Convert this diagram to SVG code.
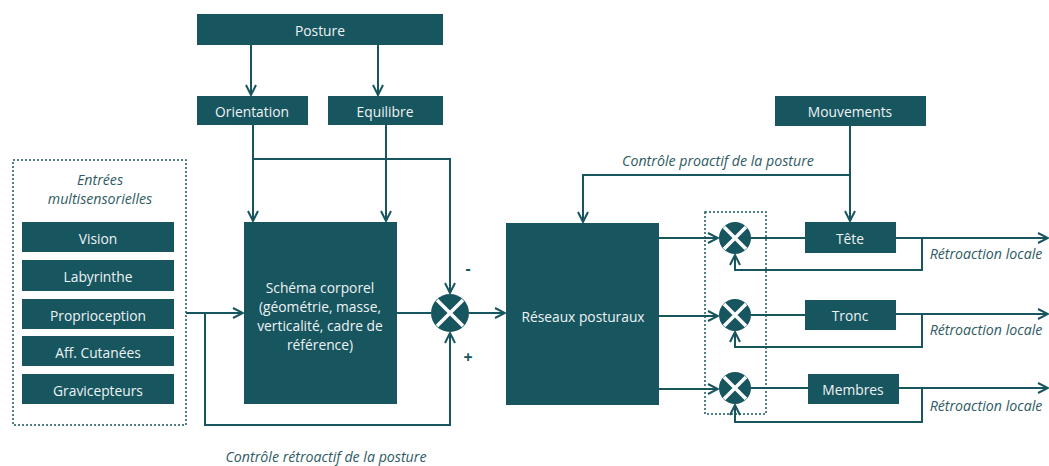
<svg xmlns="http://www.w3.org/2000/svg" width="1049" height="466" viewBox="0 0 1049 466">
<style>
.box{fill:#17555f}
.t{fill:#eef3f4;font-family:"Open Sans","Noto Sans",sans-serif;font-size:13.8px;text-anchor:middle;dominant-baseline:central}
.it{fill:#2e5b63;font-family:"Open Sans","Noto Sans",sans-serif;font-size:14.2px;font-style:italic;text-anchor:middle;dominant-baseline:central}
.sg{fill:#17555f;font-family:"Open Sans","Noto Sans",sans-serif;font-size:16px;font-weight:bold;text-anchor:middle;dominant-baseline:central}
.ln{fill:none;stroke:#17555f;stroke-width:2}
.dot{fill:none;stroke:#17555f;stroke-width:1.5;stroke-dasharray:2 2}
.x{stroke:#ffffff;stroke-width:3.5}
</style>
<defs>
<marker id="arr" markerUnits="userSpaceOnUse" viewBox="0 0 12 12" refX="11" refY="6" markerWidth="12" markerHeight="12" orient="auto">
<path d="M1,1 L11,6 L1,11" fill="none" stroke="#17555f" stroke-width="2"/>
</marker>
</defs>
<rect width="1049" height="466" fill="#ffffff"/>

<g id="connectors">
<path class="ln" d="M251,45 V95" marker-end="url(#arr)"/>
<path class="ln" d="M378,45 V95" marker-end="url(#arr)"/>
<path class="ln" d="M253,125 V221" marker-end="url(#arr)"/>
<path class="ln" d="M386,125 V221" marker-end="url(#arr)"/>
<path class="ln" d="M253,159 H450 V293" marker-end="url(#arr)"/>
<path class="ln" d="M186,313 H243" marker-end="url(#arr)"/>
<path class="ln" d="M205,313 V425 H450 V333" marker-end="url(#arr)"/>
<path class="ln" d="M397,313 H431"/>
<path class="ln" d="M469,313 H505" marker-end="url(#arr)"/>
<path class="ln" d="M850,126 V221" marker-end="url(#arr)"/>
<path class="ln" d="M850,175 H583 V222" marker-end="url(#arr)"/>
<path class="ln" d="M659,238 H718" marker-end="url(#arr)"/>
<path class="ln" d="M659,316 H718" marker-end="url(#arr)"/>
<path class="ln" d="M659,389 H718" marker-end="url(#arr)"/>
<path class="ln" d="M751,238 H805"/>
<path class="ln" d="M751,315 H805"/>
<path class="ln" d="M751,388 H808"/>
<path class="ln" d="M896,238 H1048" marker-end="url(#arr)"/>
<path class="ln" d="M896,314 H1048" marker-end="url(#arr)"/>
<path class="ln" d="M899,388 H1048" marker-end="url(#arr)"/>
<path class="ln" d="M922,238 V270 H735 V255" marker-end="url(#arr)"/>
<path class="ln" d="M922,314 V347 H735 V332" marker-end="url(#arr)"/>
<path class="ln" d="M922,388 V422 H735 V405" marker-end="url(#arr)"/>
</g>

<g id="posture"><rect class="box" x="197" y="14" width="246" height="31"/><text class="t" x="320" y="30">Posture</text></g>
<g id="orientation"><rect class="box" x="197" y="96" width="111" height="29"/><text class="t" x="252" y="111">Orientation</text></g>
<g id="equilibre"><rect class="box" x="328" y="96" width="115" height="29"/><text class="t" x="385" y="111">Equilibre</text></g>

<g id="entrees">
<rect class="dot" x="13" y="160" width="173" height="265"/>
<text class="it" x="100" y="179">Entrées</text>
<text class="it" x="100" y="198">multisensorielles</text>
</g>
<g id="vision"><rect class="box" x="22" y="222" width="152" height="30"/><text class="t" x="98" y="238">Vision</text></g>
<g id="labyrinthe"><rect class="box" x="22" y="260" width="152" height="31"/><text class="t" x="98" y="276">Labyrinthe</text></g>
<g id="proprioception"><rect class="box" x="22" y="299" width="152" height="30"/><text class="t" x="98" y="315">Proprioception</text></g>
<g id="cutanees"><rect class="box" x="22" y="336" width="152" height="30"/><text class="t" x="98" y="352">Aff. Cutanées</text></g>
<g id="gravicepteurs"><rect class="box" x="22" y="374" width="152" height="30"/><text class="t" x="98" y="390">Gravicepteurs</text></g>

<g id="schema">
<rect class="box" x="244" y="222" width="153" height="182"/>
<text class="t" x="320" y="287">Schéma corporel</text>
<text class="t" x="320" y="306">(géométrie, masse,</text>
<text class="t" x="320" y="325">verticalité, cadre de</text>
<text class="t" x="320" y="344">référence)</text>
</g>

<g id="comparateur">
<circle cx="450" cy="313" r="19" fill="#17555f"/>
<path class="x" d="M437,300 L463,326 M463,300 L437,326"/>
<text class="sg" x="468" y="268">-</text>
<text class="sg" x="468" y="357">+</text>
</g>

<g id="reseaux"><rect class="box" x="506" y="223" width="153" height="182"/><text class="t" x="583" y="316">Réseaux posturaux</text></g>

<g id="mouvements"><rect class="box" x="775" y="96" width="151" height="30"/><text class="t" x="850" y="111">Mouvements</text></g>

<g id="comparateurs">
<rect class="dot" x="705" y="212" width="61" height="202"/>
<circle cx="735" cy="238" r="16" fill="#17555f"/>
<path class="x" d="M724,227 L746,249 M746,227 L724,249"/>
<circle cx="735" cy="315" r="16" fill="#17555f"/>
<path class="x" d="M724,304 L746,326 M746,304 L724,326"/>
<circle cx="735" cy="388" r="16" fill="#17555f"/>
<path class="x" d="M724,377 L746,399 M746,377 L724,399"/>
</g>

<g id="tete"><rect class="box" x="805" y="222" width="91" height="31"/><text class="t" x="850" y="238">Tête</text></g>
<g id="tronc"><rect class="box" x="805" y="300" width="91" height="30"/><text class="t" x="850" y="315">Tronc</text></g>
<g id="membres"><rect class="box" x="808" y="374" width="91" height="30"/><text class="t" x="853" y="389">Membres</text></g>

<g id="labels">
<text class="it" x="718" y="160">Contrôle proactif de la posture</text>
<text class="it" x="326" y="456">Contrôle rétroactif de la posture</text>
<text class="it" x="986" y="253">Rétroaction locale</text>
<text class="it" x="986" y="329">Rétroaction locale</text>
<text class="it" x="986" y="405">Rétroaction locale</text>
</g>
</svg>
